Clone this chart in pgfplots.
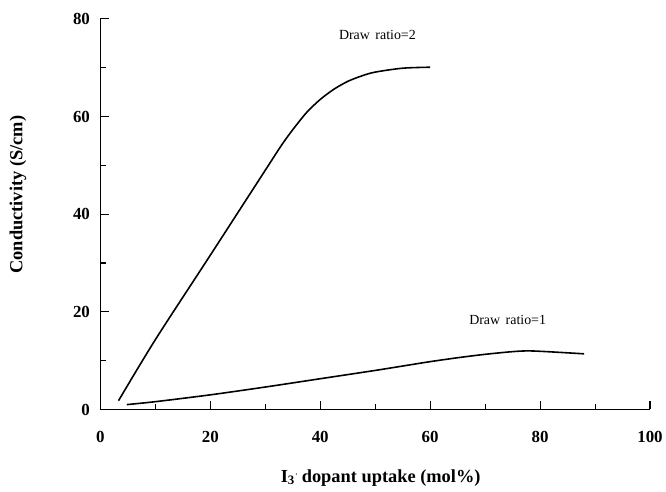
\documentclass[border=0pt]{standalone}
\usepackage{pgfplots}
\pgfplotsset{compat=1.18}
\usepackage{fontspec}
\setmainfont{Liberation Serif}

\begin{document}
\begin{tikzpicture}
    \begin{axis}[
        scale only axis,
        width=553pt, height=393pt,
        xmin=0, xmax=100, ymin=0, ymax=80,
        axis x line=bottom, axis y line=left,
        axis line style={-, line width=1.3pt},
        xtick={0,20,...,100}, ytick={0,20,...,80},
        minor xtick={10,20,...,90}, minor ytick={10,20,...,70},
        tick align=inside,
        major tick length=0.3cm, minor tick length=0.2cm,
        tick style={black, line width=1.1pt},
        /pgf/number format/assume math mode=true,
        tick label style={font=\fontsize{17}{19}\selectfont\bfseries},
        xticklabel shift=18pt,
        yticklabel shift=7pt,
        xlabel={I\textsubscript{3}\textsuperscript{\raisebox{-0.2ex}{$\cdot$}}\,dopant uptake (mol\%)},
        ylabel={Conductivity (S/cm)},
        label style={font=\fontsize{18.5}{20}\selectfont\bfseries},
        xlabel style={at={(axis description cs:0.51,-0.175)}, anchor=center},
        ylabel style={at={(axis description cs:-0.150,0.55)}, anchor=center},
        clip=false,
    ]
        % Draw ratio = 2
        \addplot[black, line width=1.6pt, smooth, tension=0.5] coordinates {
            (3.3,1.8) (10,14.3) (20,31.6) (30,49.0) (33,54.2) (35,57.3)
            (37.5,60.8) (40,63.5) (42.5,65.6) (45,67.2) (47.5,68.3)
            (50,69.1) (55,69.9) (60,70.1)
        };
        % Draw ratio = 1
        \addplot[black, line width=1.6pt, smooth] coordinates {
            (4.8,1.0) (10,1.6) (20,3.0) (30,4.6) (40,6.3) (50,8.0)
            (55,8.9) (60,9.8) (65,10.6) (70,11.3) (75,11.85) (78,12.0)
            (82,11.8) (88,11.4)
        };
        \node[font=\fontsize{14}{16}\selectfont] at (axis cs:50.4,76.7) {Draw\hspace{0.4em}ratio=2};
        \node[font=\fontsize{14}{16}\selectfont] at (axis cs:74.1,18.3) {Draw\hspace{0.4em}ratio=1};
    \end{axis}
    \path[use as bounding box] (-101pt,-83pt) rectangle (565pt,412pt);
\end{tikzpicture}
\end{document}
